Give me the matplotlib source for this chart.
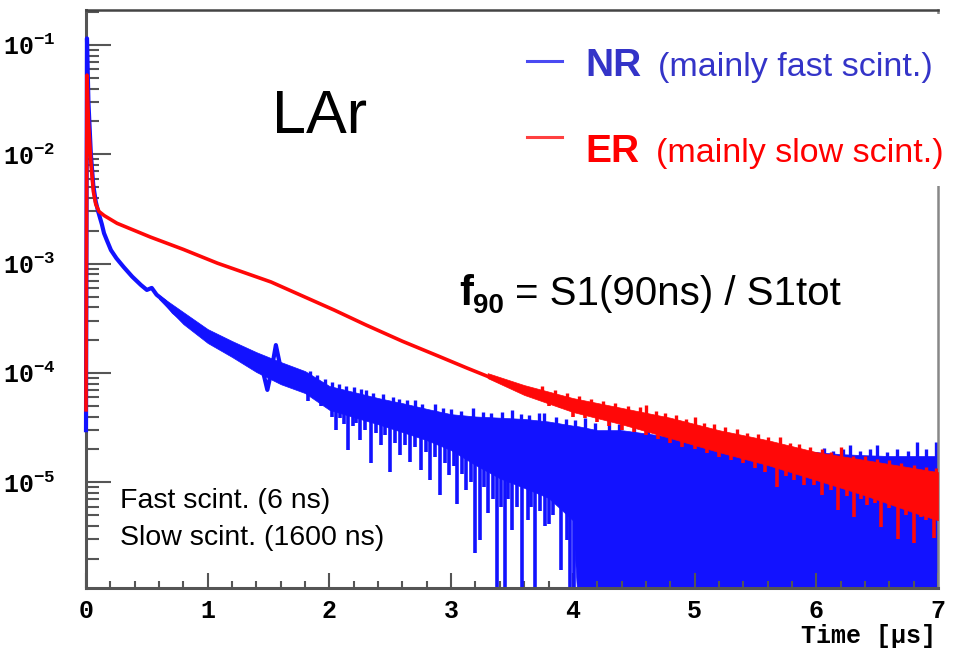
"""LAr pulse-shape plot: NR vs ER scintillation time profiles."""

import numpy as np
import matplotlib
matplotlib.use("Agg")
import matplotlib.pyplot as plt
from matplotlib.patches import Rectangle
from matplotlib.lines import Line2D
from matplotlib.ticker import FixedLocator, FixedFormatter, LogLocator, MultipleLocator, NullFormatter

plt.rcParams["mathtext.fontset"] = "custom"
plt.rcParams["mathtext.rm"] = "Liberation Mono:bold"
plt.rcParams["mathtext.bf"] = "Liberation Mono:bold"
plt.rcParams["mathtext.it"] = "Liberation Mono:bold"

BLUE = "#1212ff"
RED = "#ff0808"
AXIS_GREY = "#555555"
SANS = "Liberation Sans"
MONO = "Liberation Mono"

# --- NR (blue): smooth early part
nr_t = [0.0, 0.008, 0.02, 0.04, 0.06, 0.08, 0.10, 0.13, 0.148, 0.17, 0.205, 0.25, 0.31, 0.38, 0.45,
        0.50, 0.54, 0.58, 0.65, 0.72, 0.80, 0.90, 1.0, 1.08, 1.2, 1.36, 1.44, 1.49, 1.52, 1.56,
        1.60, 1.68, 1.77, 1.9, 2.04]
nr_y = [3e-5, 1.15e-1, 3.0e-2, 1.0e-2, 5.2e-3, 3.7e-3, 3.0e-3, 2.3e-3, 1.9e-3, 1.65e-3, 1.33e-3,
        1.12e-3, 9.3e-4, 7.6e-4, 6.4e-4, 5.75e-4, 6.0e-4, 5.2e-4, 4.5e-4, 3.6e-4, 3.05e-4, 2.55e-4,
        2.2e-4, 2.0e-4, 1.68e-4, 1.4e-4, 1.2e-4, 7.0e-5, 1.0e-4, 1.8e-4, 1.1e-4, 9.5e-5, 8.6e-5,
        7.2e-5, 6.0e-5]

# NR noisy band (upper / lower edge of the dense part); 5e-7 = empty bins, off scale
nr_band_t = [0.6, 0.8, 1.0, 1.2, 1.4, 1.6, 1.8, 2.0, 2.2, 2.4, 2.6, 2.8, 3.0, 3.2, 3.4, 3.6, 3.8, 4.0, 4.05,
             4.2, 4.4, 4.6, 4.8, 5.0, 5.2, 5.4, 5.6, 5.8, 6.0, 6.2, 6.4, 6.6, 6.8, 7.0]
nr_band_hi = [5.15e-4, 3.6e-4, 2.52e-4, 1.96e-4, 1.55e-4, 1.26e-4, 1.04e-4, 7.6e-5, 6.7e-5, 5.9e-5, 5.3e-5,
              4.7e-5, 4.2e-5, 4.0e-5, 3.9e-5, 3.8e-5, 3.6e-5, 3.3e-5, 3.25e-5,
              3.0e-5, 3.0e-5, 2.8e-5, 2.6e-5, 2.3e-5, 2.24e-5, 2.14e-5, 2.06e-5, 1.97e-5, 1.89e-5,
              1.81e-5, 1.77e-5, 1.74e-5, 1.74e-5, 1.74e-5]
nr_band_lo = [4.74e-4, 2.8e-4, 1.88e-4, 1.40e-4, 1.02e-4, 7.9e-5, 6.55e-5, 4.6e-5, 3.95e-5, 3.4e-5, 2.88e-5,
              2.43e-5, 1.97e-5, 1.44e-5, 1.09e-5, 8.9e-6, 7.2e-6, 4.5e-6, 5e-7,
              5e-7, 5e-7, 5e-7, 5e-7, 5e-7, 5e-7, 5e-7, 5e-7, 5e-7, 5e-7,
              5e-7, 5e-7, 5e-7, 5e-7, 5e-7]

# NR downward fluctuations
nr_dip_t = [1.82, 1.87, 1.93, 1.97, 2.02, 2.05, 2.09, 2.12, 2.15, 2.19, 2.22, 2.25, 2.29, 2.34, 2.38,
            2.42, 2.46, 2.50, 2.54, 2.58, 2.62, 2.66, 2.70, 2.75, 2.79, 2.83, 2.87, 2.91, 2.95, 2.98,
            3.02, 3.05, 3.09, 3.12, 3.16, 3.20, 3.24, 3.27, 3.30, 3.34, 3.38, 3.41, 3.44, 3.47, 3.50,
            3.54, 3.58, 3.63, 3.66, 3.69, 3.73, 3.77, 3.80, 3.84, 3.90, 3.95, 3.98, 4.01]
nr_dip_y = [5.5e-5, 6.0e-5, 5.0e-5, 5.4e-5, 4.0e-5, 3.0e-5, 3.9e-5, 3.4e-5, 1.97e-5, 3.3e-5, 3.5e-5,
            2.43e-5, 3.0e-5, 1.5e-5, 2.8e-5, 2.19e-5, 2.7e-5, 1.24e-5, 2.3e-5, 1.77e-5, 2.2e-5, 1.53e-5,
            2.1e-5, 1.29e-5, 1.9e-5, 1.05e-5, 1.7e-5, 7.6e-6, 1.5e-5, 1.16e-5, 1.4e-5, 6.4e-6, 1.2e-5,
            8.5e-6, 1.0e-5, 2.25e-6, 2.96e-6, 9.0e-6, 5.2e-6, 7.0e-6, 5e-7, 6.0e-6, 5e-7, 7.0e-6,
            3.65e-6, 6.0e-6, 5e-7, 4.5e-6, 6.0e-6, 5e-7, 5.5e-6, 4.0e-6, 4.2e-6, 5.0e-6, 1.57e-6,
            2.96e-6, 5e-7, 5e-7]

# NR upward fluctuations
nr_spike_t = [1.84, 1.90, 1.96, 2.02, 2.08, 2.14, 2.20, 2.26, 2.30, 2.36, 2.44, 2.52, 2.57, 2.64, 2.70,
              2.76, 2.87, 2.93, 3.00, 3.08, 3.18, 3.26, 3.33, 3.42, 3.50, 3.57, 3.64, 3.72, 3.76, 3.86,
              3.94, 4.02, 4.10, 4.18, 4.30, 4.38, 4.50, 4.62, 4.70, 4.75, 4.85, 6.06, 6.14, 6.22, 6.28,
              6.36, 6.44, 6.50, 6.58, 6.66, 6.75, 6.83, 6.90, 6.98]
nr_spike_y = [1.05e-4, 9.6e-5, 8.8e-5, 8.2e-5, 7.9e-5, 7.6e-5, 7.4e-5, 7.2e-5, 7.0e-5, 6.5e-5, 6.4e-5,
              6.0e-5, 5.8e-5, 5.7e-5, 5.65e-5, 5.2e-5, 5.2e-5, 4.8e-5, 4.7e-5, 4.5e-5, 4.8e-5, 4.4e-5,
              4.3e-5, 4.4e-5, 4.6e-5, 4.2e-5, 4.1e-5, 4.3e-5, 4.3e-5, 4.0e-5, 3.8e-5, 3.7e-5, 3.9e-5,
              3.5e-5, 3.9e-5, 3.4e-5, 3.7e-5, 3.55e-5, 3.1e-5, 3.1e-5, 2.9e-5, 2.06e-5, 1.95e-5, 2.0e-5,
              2.19e-5, 1.95e-5, 2.0e-5, 2.19e-5, 1.9e-5, 2.0e-5, 1.95e-5, 2.32e-5, 2.0e-5, 2.32e-5]

# --- ER (red): smooth part
er_t = [0.0, 0.008, 0.02, 0.04, 0.06, 0.08, 0.107, 0.15, 0.255, 0.53, 0.80, 1.08, 1.52, 2.04,
        2.3, 2.6, 2.9, 3.13, 3.4, 3.68, 3.98]
er_y = [4.6e-5, 5.3e-2, 2.0e-2, 8.5e-3, 4.6e-3, 3.5e-3, 3.0e-3, 2.75e-3, 2.34e-3, 1.75e-3, 1.35e-3,
        1.01e-3, 6.8e-4, 3.76e-4, 2.75e-4, 1.95e-4, 1.42e-4, 1.11e-4, 8.4e-5, 6.6e-5, 5.2e-5]

# ER noisy band at late times
er_band_t = [3.3, 3.6, 4.0, 4.4, 4.8, 5.2, 5.6, 6.0, 6.4, 6.8, 7.0]
er_band_hi = [9.97e-5, 7.75e-5, 5.9e-5, 4.8e-5, 3.9e-5, 3.0e-5, 2.43e-5, 1.89e-5, 1.6e-5, 1.35e-5, 1.24e-5]
er_band_lo = [8.98e-5, 6.3e-5, 4.4e-5, 3.4e-5, 2.54e-5, 1.89e-5, 1.44e-5, 1.05e-5, 7.6e-6, 5.3e-6, 4.5e-6]

er_dip_t = [3.8, 3.9, 4.0, 4.1, 4.2, 4.3, 4.4, 4.5, 4.6, 4.7, 4.8, 4.9, 5.0, 5.1, 5.2, 5.3, 5.4, 5.5,
            5.58, 5.68, 5.75, 5.82, 5.9, 5.98, 6.05, 6.12, 6.18, 6.25, 6.31, 6.37, 6.42, 6.48, 6.53,
            6.6, 6.67, 6.74, 6.8, 6.86, 6.9, 6.97]
er_dip_y = [5.0e-5, 4.8e-5, 4.0e-5, 3.9e-5, 3.6e-5, 3.3e-5, 3.0e-5, 2.9e-5, 2.7e-5, 2.5e-5, 2.3e-5,
            2.1e-5, 2.0e-5, 1.85e-5, 1.7e-5, 1.6e-5, 1.5e-5, 1.35e-5, 1.25e-5, 9.0e-6, 1.15e-5, 1.05e-5,
            9.4e-6, 9.5e-6, 7.6e-6, 8.5e-6, 5.6e-6, 7.5e-6, 4.8e-6, 7.0e-6, 6.2e-6, 6.5e-6, 3.9e-6,
            5.8e-6, 3.0e-6, 5.0e-6, 2.8e-6, 4.8e-6, 4.5e-6, 3.1e-6]
er_spike_t = [3.75, 3.85, 3.95, 4.05, 4.15, 4.25, 4.35, 4.45, 4.55, 4.6, 4.68, 4.76, 4.85, 4.93, 5.0,
              5.08, 5.16, 5.25, 5.35, 5.43, 5.52, 5.6, 5.7, 5.78, 5.86, 5.95, 6.05, 6.12, 6.2, 6.3,
              6.4, 6.5, 6.6, 6.7, 6.8, 6.9, 6.98]
er_spike_y = [7.6e-5, 7.0e-5, 6.6e-5, 6.2e-5, 5.8e-5, 5.6e-5, 5.3e-5, 5.0e-5, 4.9e-5, 5.1e-5, 4.5e-5,
              4.3e-5, 4.1e-5, 3.8e-5, 4.0e-5, 3.5e-5, 3.4e-5, 3.2e-5, 3.1e-5, 2.8e-5, 2.75e-5, 2.6e-5,
              2.6e-5, 2.3e-5, 2.25e-5, 2.1e-5, 2.0e-5, 1.9e-5, 2.1e-5, 1.75e-5, 1.75e-5, 1.65e-5,
              1.6e-5, 1.5e-5, 1.45e-5, 1.38e-5, 1.35e-5]

x_ticks = [0, 1, 2, 3, 4, 5, 6, 7]
y_ticks = [1e-5, 1e-4, 1e-3, 1e-2, 1e-1]
y_tick_labels = [r"$10^{-5}$", r"$10^{-4}$", r"$10^{-3}$", r"$10^{-2}$", r"$10^{-1}$"]

W, H = 968, 649


def band_mid(t, band_t, lo, hi):
    """Log-space centre of a band at positions t (anchor for dips/spikes)."""
    c = 0.5 * (np.log10(lo) + np.log10(hi))
    return 10 ** np.interp(t, band_t, c)


fig = plt.figure(figsize=(W / 100, H / 100), dpi=100)
ax = fig.add_axes([86 / W, 1 - 588 / H, (938 - 86) / W, (588 - 10) / H])
ax.set_yscale("log")
ax.set_xlim(0, 7)
ax.set_ylim(1.08e-6, 0.209)

# blue first, red drawn on top
ax.fill_between(nr_band_t, nr_band_lo, nr_band_hi, color=BLUE, lw=0.5)
ax.vlines(nr_dip_t, nr_dip_y, band_mid(nr_dip_t, nr_band_t, nr_band_lo, nr_band_hi), color=BLUE, lw=2.6)
ax.vlines(nr_spike_t, band_mid(nr_spike_t, nr_band_t, nr_band_lo, nr_band_hi), nr_spike_y, color=BLUE, lw=2.4)
ax.plot(nr_t, nr_y, color=BLUE, lw=3, solid_joinstyle="round", clip_on=False, zorder=3)

ax.fill_between(er_band_t, er_band_lo, er_band_hi, color=RED, lw=0.5, zorder=3)
ax.vlines(er_dip_t, er_dip_y, band_mid(er_dip_t, er_band_t, er_band_lo, er_band_hi), color=RED, lw=2.6, zorder=3)
ax.vlines(er_spike_t, band_mid(er_spike_t, er_band_t, er_band_lo, er_band_hi), er_spike_y, color=RED, lw=2.4, zorder=3)
ax.plot(er_t, er_y, color=RED, lw=2.6, solid_joinstyle="round", clip_on=False, zorder=4)

# ROOT-like axes
for side in ["left", "bottom"]:
    ax.spines[side].set_color(AXIS_GREY)
    ax.spines[side].set_linewidth(2.2)
ax.spines["top"].set_color("#444444")
ax.spines["top"].set_linewidth(1.8)
ax.spines["right"].set_color("#888888")
ax.spines["right"].set_linewidth(1.8)

ax.xaxis.set_major_locator(FixedLocator(x_ticks))
ax.xaxis.set_minor_locator(MultipleLocator(0.2))
ax.set_xticklabels([str(v) for v in x_ticks], fontfamily=MONO, fontweight="bold", fontsize=18)
ax.yaxis.set_major_locator(FixedLocator(y_ticks))
ax.yaxis.set_major_formatter(FixedFormatter(y_tick_labels))
ax.yaxis.set_minor_locator(LogLocator(base=10, subs=np.arange(2, 10)))
ax.yaxis.set_minor_formatter(NullFormatter())
for lab in ax.get_yticklabels():
    lab.set_fontsize(18)

ax.tick_params(which="both", direction="in", color=AXIS_GREY, width=1.5, top=False, right=False)
ax.tick_params(axis="y", which="major", length=18, pad=22)
ax.tick_params(axis="y", which="minor", length=9)
ax.tick_params(axis="x", which="major", length=11, pad=8)
ax.tick_params(axis="x", which="minor", length=5)

fig.text(936 / W, 1 - 636 / H, "Time [\u00b5s]", ha="right", va="center",
         fontfamily=MONO, fontweight="bold", fontsize=18)

# annotations
fig.text(272 / W, 1 - 133 / H, "LAr", fontfamily=SANS, fontsize=44, va="baseline")
fig.text(459 / W, 1 - 305 / H, "f", fontfamily=SANS, fontweight="bold", fontsize=30, va="baseline")
fig.text(473 / W, 1 - 313 / H, "90", fontfamily=SANS, fontweight="bold", fontsize=20, va="baseline")
fig.text(515 / W, 1 - 305 / H, "= S1(90ns) / S1tot", fontfamily=SANS, fontsize=29, va="baseline")
fig.text(120 / W, 1 - 508 / H, "Fast scint. (6 ns)", fontfamily=SANS, fontsize=20.5, va="baseline")
fig.text(120 / W, 1 - 545 / H, "Slow scint. (1600 ns)", fontfamily=SANS, fontsize=20.5, va="baseline")

# legend box (sits over the upper right corner of the frame)
fig.add_artist(Rectangle((515 / W, 1 - 186 / H), (W - 515) / W, (186 - 14) / H,
                         transform=fig.transFigure, facecolor="white", edgecolor="none", zorder=5))
fig.add_artist(Line2D([527 / W, 562 / W], [1 - 61 / H, 1 - 61 / H], transform=fig.transFigure,
                      color="#4a4af2", lw=2.2, zorder=6))
fig.add_artist(Line2D([527 / W, 562 / W], [1 - 137 / H, 1 - 137 / H], transform=fig.transFigure,
                      color="#ff4040", lw=2.2, zorder=6))
fig.text(585 / W, 1 - 76 / H, "NR", color="#3434c8", fontfamily=SANS, fontweight="bold",
         fontsize=28, va="baseline", zorder=7)
fig.text(658 / W, 1 - 76 / H, "(mainly fast scint.)", color="#3434c8", fontfamily=SANS,
         fontsize=24.5, va="baseline", zorder=7)
fig.text(585 / W, 1 - 162 / H, "ER", color="#ff0000", fontfamily=SANS, fontweight="bold",
         fontsize=28, va="baseline", zorder=7)
fig.text(656 / W, 1 - 162 / H, "(mainly slow scint.)", color="#ff0000", fontfamily=SANS,
         fontsize=24.5, va="baseline", zorder=7)

fig.savefig("out.png", dpi=100)
